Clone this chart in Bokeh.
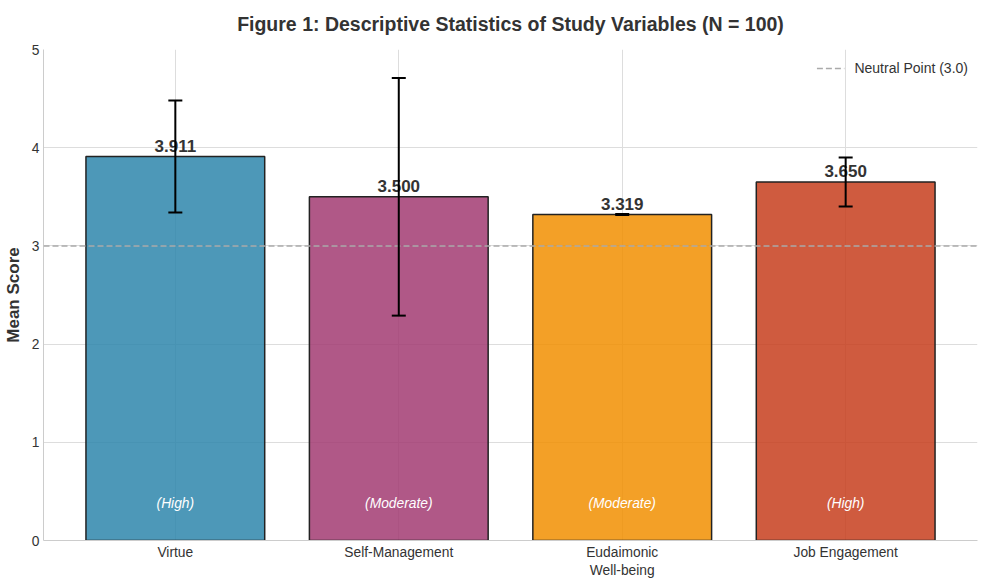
from bokeh.plotting import figure
from bokeh.models import ColumnDataSource, Whisker, TeeHead, Span, FactorRange, Legend, LegendItem
from bokeh.core.properties import value
from bokeh.embed import file_html
from bokeh.resources import INLINE

# values
variables = ["Virtue", "Self-Management", "Eudaimonic\nWell-being", "Job Engagement"]
means = [3.911, 3.500, 3.319, 3.650]
sds = [0.57, 1.21, 0.005, 0.25]
levels = ["(High)", "(Moderate)", "(Moderate)", "(High)"]
colors = ["#2E86AB", "#A23B72", "#F18F01", "#C73E1D"]
neutral = 3.0

FONT = "Liberation Sans"

src = ColumnDataSource(data=dict(
    var=variables,
    mean=means,
    upper=[m + s for m, s in zip(means, sds)],
    lower=[m - s for m, s in zip(means, sds)],
    label=["%.3f" % m for m in means],
    label_y=[m + 0.05 for m in means],
    level=levels,
    color=colors,
))

p = figure(
    x_range=FactorRange(*variables, range_padding=0.045),
    y_range=(0, 5),
    frame_width=934, frame_height=491,
    output_backend="svg", toolbar_location=None,
    title="Figure 1: Descriptive Statistics of Study Variables (N = 100)",
    min_border_left=35, min_border_right=2, min_border_top=0, min_border_bottom=0,
)

p.title.align = "center"
p.title.vertical_align = "top"
p.title.text_font = FONT
p.title.text_font_size = "19.5px"
p.title.text_color = "#333333"
p.title.offset = 0
p.title.standoff = 25

p.vbar(x="var", top="mean", width=0.8, source=src, fill_color="color", fill_alpha=0.85,
       line_color="#222222", line_width=1.5)

neutral_line = Span(location=neutral, dimension="width", line_color="#aaaaaa",
                    line_width=1.5, line_dash="6 3")
p.add_layout(neutral_line)

# a one-point line, invisible in the plot, only to carry the legend entry
dummy = p.line(x=[variables[0]], y=[neutral], line_color="#aaaaaa", line_width=1.5,
               line_dash="6 3")
legend = Legend(items=[LegendItem(label="Neutral Point (3.0)", renderers=[dummy])],
                location="top_right")
legend.label_text_font = FONT
legend.label_text_font_size = "14px"
legend.label_text_color = "#333333"
legend.border_line_alpha = 0
legend.background_fill_alpha = 0
legend.glyph_width = 28
legend.label_standoff = 10
legend.margin = 3
legend.padding = 6
p.add_layout(legend)

p.text(x="var", y="label_y", text="label", source=src, text_align="center",
       text_baseline="bottom", text_font=value(FONT), text_font_style="bold",
       text_font_size="17px", text_color="#333333")

p.text(x="var", y=0.375, text="level", source=src, text_align="center",
       text_baseline="middle", text_font=value(FONT), text_font_style="italic",
       text_font_size="13.8px", text_color="white")

err = Whisker(base="var", upper="upper", lower="lower", source=src, dimension="height",
              line_color="black", line_width=2, level="overlay",
              upper_head=TeeHead(size=14, line_width=2, line_color="black"),
              lower_head=TeeHead(size=14, line_width=2, line_color="black"))
p.add_layout(err)

p.yaxis.axis_label = "Mean Score"
p.yaxis.axis_label_text_font = FONT
p.yaxis.axis_label_text_font_style = "bold"
p.yaxis.axis_label_text_font_size = "17px"
p.yaxis.axis_label_text_color = "#333333"
p.yaxis.axis_label_standoff = 6
p.yaxis.ticker = [0, 1, 2, 3, 4, 5]

for ax in (p.xaxis, p.yaxis):
    ax.major_label_text_font = FONT
    ax.major_label_text_font_size = "13.8px"
    ax.major_label_text_color = "#333333"
    ax.axis_line_color = "#cccccc"
    ax.major_tick_line_color = None
    ax.minor_tick_line_color = None
    ax.major_tick_out = 0
    ax.major_tick_in = 0
    ax.major_label_standoff = 4

p.xgrid.grid_line_color = "#dddddd"
p.ygrid.grid_line_color = "#dddddd"
p.outline_line_color = None

open("out.html", "w").write(file_html(p, INLINE))
